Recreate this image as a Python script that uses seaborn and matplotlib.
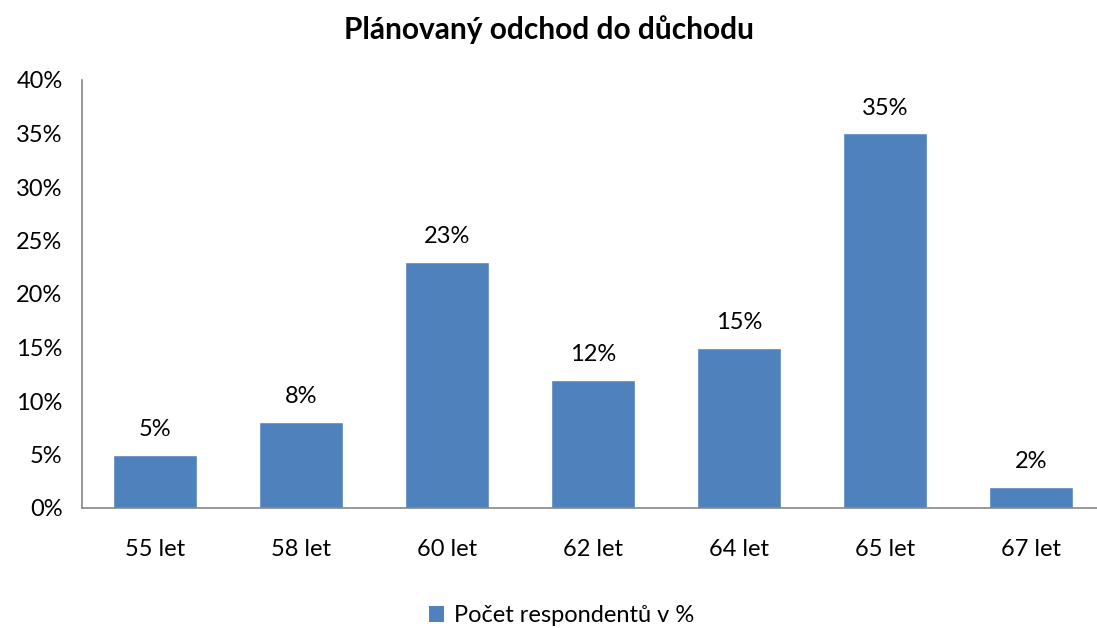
import matplotlib
matplotlib.use("Agg")
import matplotlib.pyplot as plt
import seaborn as sns
import pandas as pd
from matplotlib.patches import Patch
from matplotlib.ticker import FuncFormatter

categories = ["55 let", "58 let", "60 let", "62 let", "64 let", "65 let", "67 let"]
values = [5, 8, 23, 12, 15, 35, 2]
series_name = "Počet respondentů v %"
yticks = [0, 5, 10, 15, 20, 25, 30, 35, 40]

sns.set_theme(style="white")
plt.rcParams['font.family'] = ['Lato', 'DejaVu Sans']
plt.rcParams['text.color'] = 'black'

df = pd.DataFrame({"cat": categories, "val": values})

fig = plt.figure(figsize=(10.97, 6.28), dpi=100)
ax = fig.add_axes([82/1097, 1 - 508/628, (1097 - 82)/1097, (508 - 80)/628])

color = "#4F81BD"
sns.barplot(data=df, x="cat", y="val", color=color, width=0.575, ax=ax, saturation=1)

ax.set_xlim(-0.5, 6.45)
ax.set_ylim(0, 40)
ax.set_yticks(yticks)
ax.yaxis.set_major_formatter(FuncFormatter(lambda v, p: f"{int(v)}%"))
ax.set_xlabel("")
ax.set_ylabel("")
ax.tick_params(axis="both", length=0, labelsize=17, colors="black")
ax.tick_params(axis="x", pad=22)
ax.tick_params(axis="y", pad=14)

for s in ["top", "right"]:
    ax.spines[s].set_visible(False)
for s in ["left", "bottom"]:
    ax.spines[s].set_color("#868686")
    ax.spines[s].set_linewidth(1.2)

for i, v in enumerate(values):
    ax.text(i, v + 1.4, f"{v}%", ha="center", va="bottom", fontsize=17, color="black")

fig.text(0.5, 1 - 30/628, "Plánovaný odchod do důchodu", ha="center", va="center",
         fontsize=21.5, fontweight="bold", color="black")

handle = Patch(facecolor=color, edgecolor="none")
fig.legend([handle], [series_name], loc="center", bbox_to_anchor=(0.512, 1 - 616/628),
           frameon=False, fontsize=17, handlelength=0.65, handleheight=0.65, handletextpad=0.4,
           labelcolor="black")

fig.savefig("out.png", dpi=100)
